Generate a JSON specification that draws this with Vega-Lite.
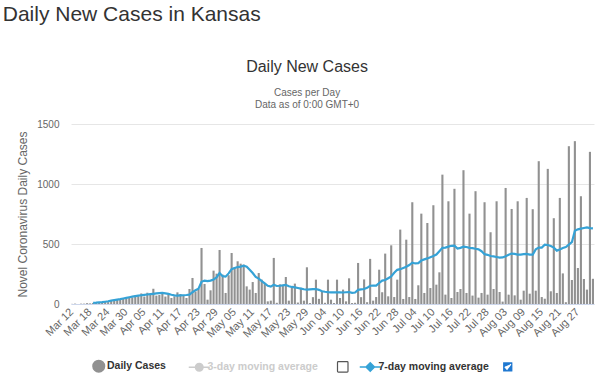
{
  "$schema": "https://vega.github.io/schema/vega-lite/v6.json",
  "padding": {"left": 2, "top": 4, "right": 4, "bottom": 0},
  "background": "white",
  "config": {
    "view": {"stroke": null},
    "font": "Liberation Sans",
    "axis": {"labelFont": "Liberation Sans", "titleFont": "Liberation Sans"}
  },
  "title": {"text": "Daily New Cases in Kansas", "anchor": "start", "frame": "bounds", "fontSize": 21, "fontWeight": "normal", "color": "#333333", "font": "Liberation Sans", "offset": 34, "dx": -14},
  "vconcat": [
    {
      "width": 523,
      "height": 180,
      "title": {"text": "Daily New Cases", "subtitle": ["Cases per Day", "Data as of 0:00 GMT+0"], "anchor": "middle", "frame": "bounds", "font": "Liberation Sans", "fontSize": 16, "fontWeight": "normal", "color": "#333333", "subtitleFont": "Liberation Sans", "subtitleFontSize": 10, "subtitleColor": "#666666", "subtitlePadding": 13, "subtitleLineHeight": 11.5, "offset": 9.5},
      "data": {"values": [
        {"d":"2020-03-12","c":1},{"d":"2020-03-13","c":3},{"d":"2020-03-14","c":0},{"d":"2020-03-15","c":3},{"d":"2020-03-16","c":3},{"d":"2020-03-17","c":7},{"d":"2020-03-18","c":5},
        {"d":"2020-03-19","c":9,"m":10},{"d":"2020-03-20","c":10,"m":11},{"d":"2020-03-21","c":13,"m":13},{"d":"2020-03-22","c":17,"m":15},{"d":"2020-03-23","c":18,"m":19},{"d":"2020-03-24","c":16,"m":23},{"d":"2020-03-25","c":28,"m":28},{"d":"2020-03-26","c":26,"m":33},{"d":"2020-03-27","c":34,"m":37},{"d":"2020-03-28","c":40,"m":41},{"d":"2020-03-29","c":49,"m":46},{"d":"2020-03-30","c":53,"m":51},{"d":"2020-03-31","c":57,"m":56},
        {"d":"2020-04-01","c":54,"m":61},{"d":"2020-04-02","c":70,"m":66},{"d":"2020-04-03","c":65,"m":70},{"d":"2020-04-04","c":88,"m":73},{"d":"2020-04-05","c":62,"m":76},{"d":"2020-04-06","c":94,"m":79},{"d":"2020-04-07","c":75,"m":82},{"d":"2020-04-08","c":127,"m":85},{"d":"2020-04-09","c":70,"m":88},{"d":"2020-04-10","c":75,"m":90},{"d":"2020-04-11","c":100,"m":92},{"d":"2020-04-12","c":62,"m":89},{"d":"2020-04-13","c":78,"m":84},{"d":"2020-04-14","c":50,"m":77},{"d":"2020-04-15","c":64,"m":72},{"d":"2020-04-16","c":97,"m":70},{"d":"2020-04-17","c":83,"m":72},{"d":"2020-04-18","c":72,"m":73},{"d":"2020-04-19","c":50,"m":75},{"d":"2020-04-20","c":125,"m":78},{"d":"2020-04-21","c":217,"m":98},{"d":"2020-04-22","c":105,"m":115},{"d":"2020-04-23","c":125,"m":128},{"d":"2020-04-24","c":467,"m":185},{"d":"2020-04-25","c":167,"m":195},{"d":"2020-04-26","c":36,"m":190},{"d":"2020-04-27","c":114,"m":195},{"d":"2020-04-28","c":278,"m":205},{"d":"2020-04-29","c":253,"m":222},{"d":"2020-04-30","c":450,"m":258},
        {"d":"2020-05-01","c":245,"m":232},{"d":"2020-05-02","c":92,"m":228},{"d":"2020-05-03","c":240,"m":255},{"d":"2020-05-04","c":425,"m":290},{"d":"2020-05-05","c":306,"m":300},{"d":"2020-05-06","c":356,"m":308},{"d":"2020-05-07","c":336,"m":312},{"d":"2020-05-08","c":328,"m":320},{"d":"2020-05-09","c":147,"m":310},{"d":"2020-05-10","c":120,"m":285},{"d":"2020-05-11","c":183,"m":258},{"d":"2020-05-12","c":92,"m":225},{"d":"2020-05-13","c":258,"m":212},{"d":"2020-05-14","c":203,"m":190},{"d":"2020-05-15","c":175,"m":172},{"d":"2020-05-16","c":22,"m":152},{"d":"2020-05-17","c":28,"m":145},{"d":"2020-05-18","c":384,"m":160},{"d":"2020-05-19","c":10,"m":150},{"d":"2020-05-20","c":164,"m":152},{"d":"2020-05-21","c":161,"m":155},{"d":"2020-05-22","c":225,"m":160},{"d":"2020-05-23","c":28,"m":148},{"d":"2020-05-24","c":140,"m":142},{"d":"2020-05-25","c":170,"m":138},{"d":"2020-05-26","c":12,"m":133},{"d":"2020-05-27","c":135,"m":128},{"d":"2020-05-28","c":28,"m":123},{"d":"2020-05-29","c":306,"m":120},{"d":"2020-05-30","c":8,"m":122},{"d":"2020-05-31","c":57,"m":124},
        {"d":"2020-06-01","c":203,"m":125},{"d":"2020-06-02","c":43,"m":118},{"d":"2020-06-03","c":110,"m":106},{"d":"2020-06-04","c":10,"m":102},{"d":"2020-06-05","c":203,"m":99},{"d":"2020-06-06","c":36,"m":97},{"d":"2020-06-07","c":8,"m":97},{"d":"2020-06-08","c":203,"m":97},{"d":"2020-06-09","c":50,"m":97},{"d":"2020-06-10","c":120,"m":96},{"d":"2020-06-11","c":22,"m":98},{"d":"2020-06-12","c":214,"m":100},{"d":"2020-06-13","c":8,"m":93},{"d":"2020-06-14","c":10,"m":96},{"d":"2020-06-15","c":342,"m":118},{"d":"2020-06-16","c":57,"m":122},{"d":"2020-06-17","c":205,"m":125},{"d":"2020-06-18","c":15,"m":135},{"d":"2020-06-19","c":376,"m":152},{"d":"2020-06-20","c":28,"m":153},{"d":"2020-06-21","c":58,"m":153},{"d":"2020-06-22","c":286,"m":175},{"d":"2020-06-23","c":98,"m":195},{"d":"2020-06-24","c":420,"m":200},{"d":"2020-06-25","c":64,"m":215},{"d":"2020-06-26","c":489,"m":230},{"d":"2020-06-27","c":58,"m":260},{"d":"2020-06-28","c":203,"m":285},{"d":"2020-06-29","c":620,"m":290},{"d":"2020-06-30","c":42,"m":300},
        {"d":"2020-07-01","c":536,"m":310},{"d":"2020-07-02","c":58,"m":325},{"d":"2020-07-03","c":848,"m":345},{"d":"2020-07-04","c":42,"m":338},{"d":"2020-07-05","c":156,"m":340},{"d":"2020-07-06","c":753,"m":362},{"d":"2020-07-07","c":92,"m":372},{"d":"2020-07-08","c":675,"m":380},{"d":"2020-07-09","c":133,"m":390},{"d":"2020-07-10","c":823,"m":400},{"d":"2020-07-11","c":161,"m":412},{"d":"2020-07-12","c":264,"m":440},{"d":"2020-07-13","c":1078,"m":468},{"d":"2020-07-14","c":78,"m":470},{"d":"2020-07-15","c":856,"m":478},{"d":"2020-07-16","c":50,"m":485},{"d":"2020-07-17","c":960,"m":486},{"d":"2020-07-18","c":100,"m":462},{"d":"2020-07-19","c":125,"m":468},{"d":"2020-07-20","c":1115,"m":478},{"d":"2020-07-21","c":92,"m":475},{"d":"2020-07-22","c":753,"m":468},{"d":"2020-07-23","c":70,"m":466},{"d":"2020-07-24","c":940,"m":460},{"d":"2020-07-25","c":53,"m":455},{"d":"2020-07-26","c":92,"m":440},{"d":"2020-07-27","c":848,"m":415},{"d":"2020-07-28","c":78,"m":410},{"d":"2020-07-29","c":598,"m":400},{"d":"2020-07-30","c":125,"m":397},{"d":"2020-07-31","c":856,"m":392},
        {"d":"2020-08-01","c":100,"m":386},{"d":"2020-08-02","c":20,"m":388},{"d":"2020-08-03","c":967,"m":398},{"d":"2020-08-04","c":78,"m":410},{"d":"2020-08-05","c":792,"m":420},{"d":"2020-08-06","c":72,"m":418},{"d":"2020-08-07","c":856,"m":412},{"d":"2020-08-08","c":36,"m":412},{"d":"2020-08-09","c":111,"m":415},{"d":"2020-08-10","c":884,"m":418},{"d":"2020-08-11","c":86,"m":411},{"d":"2020-08-12","c":790,"m":412},{"d":"2020-08-13","c":111,"m":455},{"d":"2020-08-14","c":1190,"m":470},{"d":"2020-08-15","c":58,"m":470},{"d":"2020-08-16","c":44,"m":495},{"d":"2020-08-17","c":1126,"m":492},{"d":"2020-08-18","c":106,"m":484},{"d":"2020-08-19","c":715,"m":470},{"d":"2020-08-20","c":92,"m":445},{"d":"2020-08-21","c":884,"m":455},{"d":"2020-08-22","c":255,"m":467},{"d":"2020-08-23","c":15,"m":475},{"d":"2020-08-24","c":1315,"m":495},{"d":"2020-08-25","c":200,"m":515},{"d":"2020-08-26","c":1357,"m":610},{"d":"2020-08-27","c":300,"m":622},{"d":"2020-08-28","c":898,"m":628},{"d":"2020-08-29","c":208,"m":633},{"d":"2020-08-30","c":120,"m":638},{"d":"2020-08-31","c":1268,"m":632},
        {"d":"2020-09-01","c":210,"m":630}
      ]},
      "encoding": {
        "x": {
          "field": "d", "type": "ordinal",
          "scale": {"paddingInner": 0.3, "paddingOuter": 0},
          "axis": {
            "title": null,
            "values": ["2020-03-12","2020-03-18","2020-03-24","2020-03-30","2020-04-05","2020-04-11","2020-04-17","2020-04-23","2020-04-29","2020-05-05","2020-05-11","2020-05-17","2020-05-23","2020-05-29","2020-06-04","2020-06-10","2020-06-16","2020-06-22","2020-06-28","2020-07-04","2020-07-10","2020-07-16","2020-07-22","2020-07-28","2020-08-03","2020-08-09","2020-08-15","2020-08-21","2020-08-27"],
            "labelExpr": "utcFormat(toDate(datum.value), '%b %d')",
            "labelAngle": -45, "labelAlign": "right", "labelBaseline": "middle",
            "labelFontSize": 11, "labelColor": "#666666", "labelPadding": 6,
            "domainColor": "#ccd6eb", "ticks": false, "grid": false
          }
        }
      },
      "layer": [
        {
          "mark": {"type": "bar"},
          "encoding": {
            "y": {
              "field": "c", "type": "quantitative",
              "scale": {"domain": [0, 1500], "nice": false},
              "axis": {"title": "Novel Coronavirus Daily Cases", "values": [0, 500, 1000, 1500], "format": "d", "grid": true, "gridColor": "#e6e6e6", "domain": false, "ticks": false, "labelPadding": 12, "labelFontSize": 10, "labelColor": "#666666", "titleFontSize": 12, "titleFontWeight": "normal", "titleColor": "#666666", "titlePadding": 7}
            },
            "color": {
              "datum": "Daily Cases",
              "scale": {"domain": ["Daily Cases", "3-day moving average", "cb3", "7-day moving average", "cb7"], "range": ["#919191", "#cccccc", "#ffffff", "#35a2d6", "#1f78d1"]},
              "legend": {
                "orient": "none", "legendX": 22.5, "legendY": 236.5, "direction": "horizontal",
                "title": null, "symbolSize": 441, "labelFont": "Liberation Sans", "labelFontSize": 10.5,
                "labelFontWeight": "bold", "labelColor": "#333333", "labelOffset": 3, "columnPadding": 1.5,
                "labelExpr": "datum.value == 'Daily Cases' ? 'Daily Cases      \u200b' : datum.value == '3-day moving average' ? '3-day moving average     \u200b' : datum.value == 'cb3' ? '\u200b \u200b' : datum.value == '7-day moving average' ? '7-day moving average   \u200b' : '\u200b \u200b'",
                "encode": {
                  "symbols": {"update": {
                    "shape": {"signal": "datum.value == 'Daily Cases' ? 'M-0.55,0A0.55,0.55,0,1,1,0.55,0A0.55,0.55,0,1,1,-0.55,0Z' : datum.value == '3-day moving average' ? 'M-1,0L-0.36,0M0.36,0L1,0M-0.36,0A0.36,0.36,0,1,1,0.36,0A0.36,0.36,0,1,1,-0.36,0Z' : datum.value == '7-day moving average' ? 'M-1,0L-0.4,0M0.4,0L1,0M0,-0.4L0.4,0L0,0.4L-0.4,0Z' : datum.value == 'cb3' ? 'M-0.42,-0.5H0.42Q0.5,-0.5,0.5,-0.42V0.42Q0.5,0.5,0.42,0.5H-0.42Q-0.5,0.5,-0.5,0.42V-0.42Q-0.5,-0.5,-0.42,-0.5Z' : 'M-0.42,-0.5H0.42Q0.5,-0.5,0.5,-0.42V0.42Q0.5,0.5,0.42,0.5H-0.42Q-0.5,0.5,-0.5,0.42V-0.42Q-0.5,-0.5,-0.42,-0.5ZM-0.28,0L-0.07,0.24L0.3,-0.25'"},
                    "fill": {"signal": "datum.value == 'Daily Cases' ? '#919191' : datum.value == '3-day moving average' ? '#cccccc' : datum.value == 'cb3' ? '#ffffff' : datum.value == 'cb7' ? '#1f78d1' : '#35a2d6'"},
                    "stroke": {"signal": "datum.value == 'Daily Cases' ? '#919191' : datum.value == '3-day moving average' ? '#cccccc' : datum.value == 'cb3' ? '#555555' : datum.value == 'cb7' ? '#ffffff' : '#35a2d6'"},
                    "strokeWidth": {"signal": "datum.value == 'cb3' || datum.value == 'cb7' ? 1.2 : 1.5"},
                    "opacity": {"value": 1}
                  }},
                  "labels": {"update": {
                    "fill": {"signal": "datum.value == '3-day moving average' ? '#cccccc' : '#333333'"}
                  }}
                }
              }
            }
          }
        },
        {
          "mark": {"type": "line", "color": "#35a2d6", "strokeWidth": 2.2},
          "encoding": {"y": {"field": "m", "type": "quantitative"}}
        }
      ]
    }
  ]
}
